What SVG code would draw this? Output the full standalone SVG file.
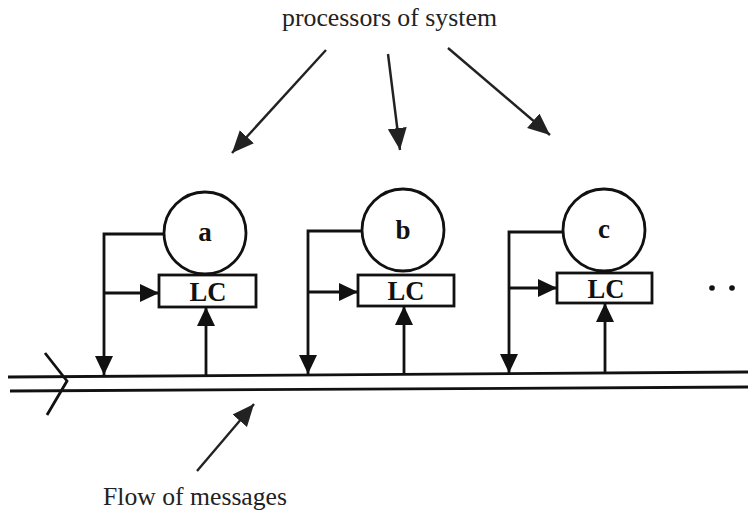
<svg xmlns="http://www.w3.org/2000/svg" width="748" height="511" viewBox="0 0 748 511">
  <style>
    .ln { stroke: #111; stroke-width: 2.8; fill: none; }
    .arr { stroke: #111; stroke-width: 2.8; fill: none; marker-end: url(#tri); }
    .arr-lg { stroke: #222; stroke-width: 2.4; fill: none; marker-end: url(#tri-lg); }
    .node circle, .node rect { fill: #fff; stroke: #111; stroke-width: 2.8; }
    .lbl { font-family: "Liberation Serif", "Times New Roman", serif; font-weight: bold; font-size: 27px; fill: #111; text-anchor: middle; }
    .cap { font-family: "Liberation Serif", "Times New Roman", serif; font-size: 26px; fill: #222; }
  </style>
  <defs>
    <marker id="tri" markerUnits="userSpaceOnUse" markerWidth="20" markerHeight="19" refX="19" refY="9" orient="auto">
      <path d="M0,0 L19,9 L0,18 z" fill="#111"/>
    </marker>
    <marker id="tri-lg" markerUnits="userSpaceOnUse" markerWidth="24" markerHeight="20" refX="22" refY="9.5" orient="auto">
      <path d="M0,0 L22,9.5 L0,19 z" fill="#222"/>
    </marker>
  </defs>
  <rect width="748" height="511" fill="#fff"/>

  <!-- captions -->
  <text class="cap" x="282" y="26" textLength="215" lengthAdjust="spacingAndGlyphs">processors of system</text>
  <text class="cap" x="103" y="505" textLength="184" lengthAdjust="spacingAndGlyphs">Flow of messages</text>

  <!-- message bus -->
  <g id="bus">
    <line class="ln" x1="8" y1="377" x2="748" y2="372"/>
    <line class="ln" x1="10" y1="391" x2="748" y2="387"/>
    <polyline class="ln" stroke-width="2.2" points="45,353 67,381 47,415"/>
  </g>

  <!-- processor a -->
  <g id="node-a" class="node">
    <circle cx="205" cy="233" r="41"/>
    <rect x="159" y="275" width="97" height="32"/>
    <text class="lbl" x="205" y="241">a</text>
    <text class="lbl" x="208" y="301" textLength="37" lengthAdjust="spacingAndGlyphs">LC</text>
  </g>

  <!-- processor b -->
  <g id="node-b" class="node">
    <circle cx="403" cy="230" r="41"/>
    <rect x="358" y="275" width="96" height="31"/>
    <text class="lbl" x="403" y="239">b</text>
    <text class="lbl" x="406" y="300" textLength="37" lengthAdjust="spacingAndGlyphs">LC</text>
  </g>

  <!-- processor c -->
  <g id="node-c" class="node">
    <circle cx="604" cy="230" r="41"/>
    <rect x="557" y="273" width="95" height="30"/>
    <text class="lbl" x="604" y="238">c</text>
    <text class="lbl" x="606" y="298" textLength="37" lengthAdjust="spacingAndGlyphs">LC</text>
  </g>

  <!-- continuation dots -->
  <g id="more">
    <circle cx="712" cy="288" r="2.8" fill="#111"/>
    <circle cx="732" cy="288" r="2.8" fill="#111"/>
  </g>

  <!-- connectors -->
  <g id="connectors">
    <!-- pointers from the top caption -->
    <line class="arr-lg" x1="326" y1="50" x2="232" y2="153"/>
    <line class="arr-lg" x1="388" y1="54" x2="400" y2="150"/>
    <line class="arr-lg" x1="448" y1="48" x2="550" y2="135"/>
    <!-- pointer from the bottom caption -->
    <line class="arr-lg" x1="197" y1="471" x2="254" y2="404"/>

    <!-- a -->
    <polyline class="arr" points="164,234 104,234 104,375"/>
    <line class="arr" x1="104" y1="293" x2="159" y2="293"/>
    <line class="arr" x1="206" y1="376" x2="206" y2="307"/>

    <!-- b -->
    <polyline class="arr" points="362,231 308,231 308,374"/>
    <line class="arr" x1="308" y1="292" x2="358" y2="292"/>
    <line class="arr" x1="404" y1="375" x2="404" y2="306"/>

    <!-- c -->
    <polyline class="arr" points="563,232 509,232 509,373"/>
    <line class="arr" x1="509" y1="288" x2="557" y2="288"/>
    <line class="arr" x1="605" y1="373" x2="605" y2="303"/>
  </g>
</svg>
